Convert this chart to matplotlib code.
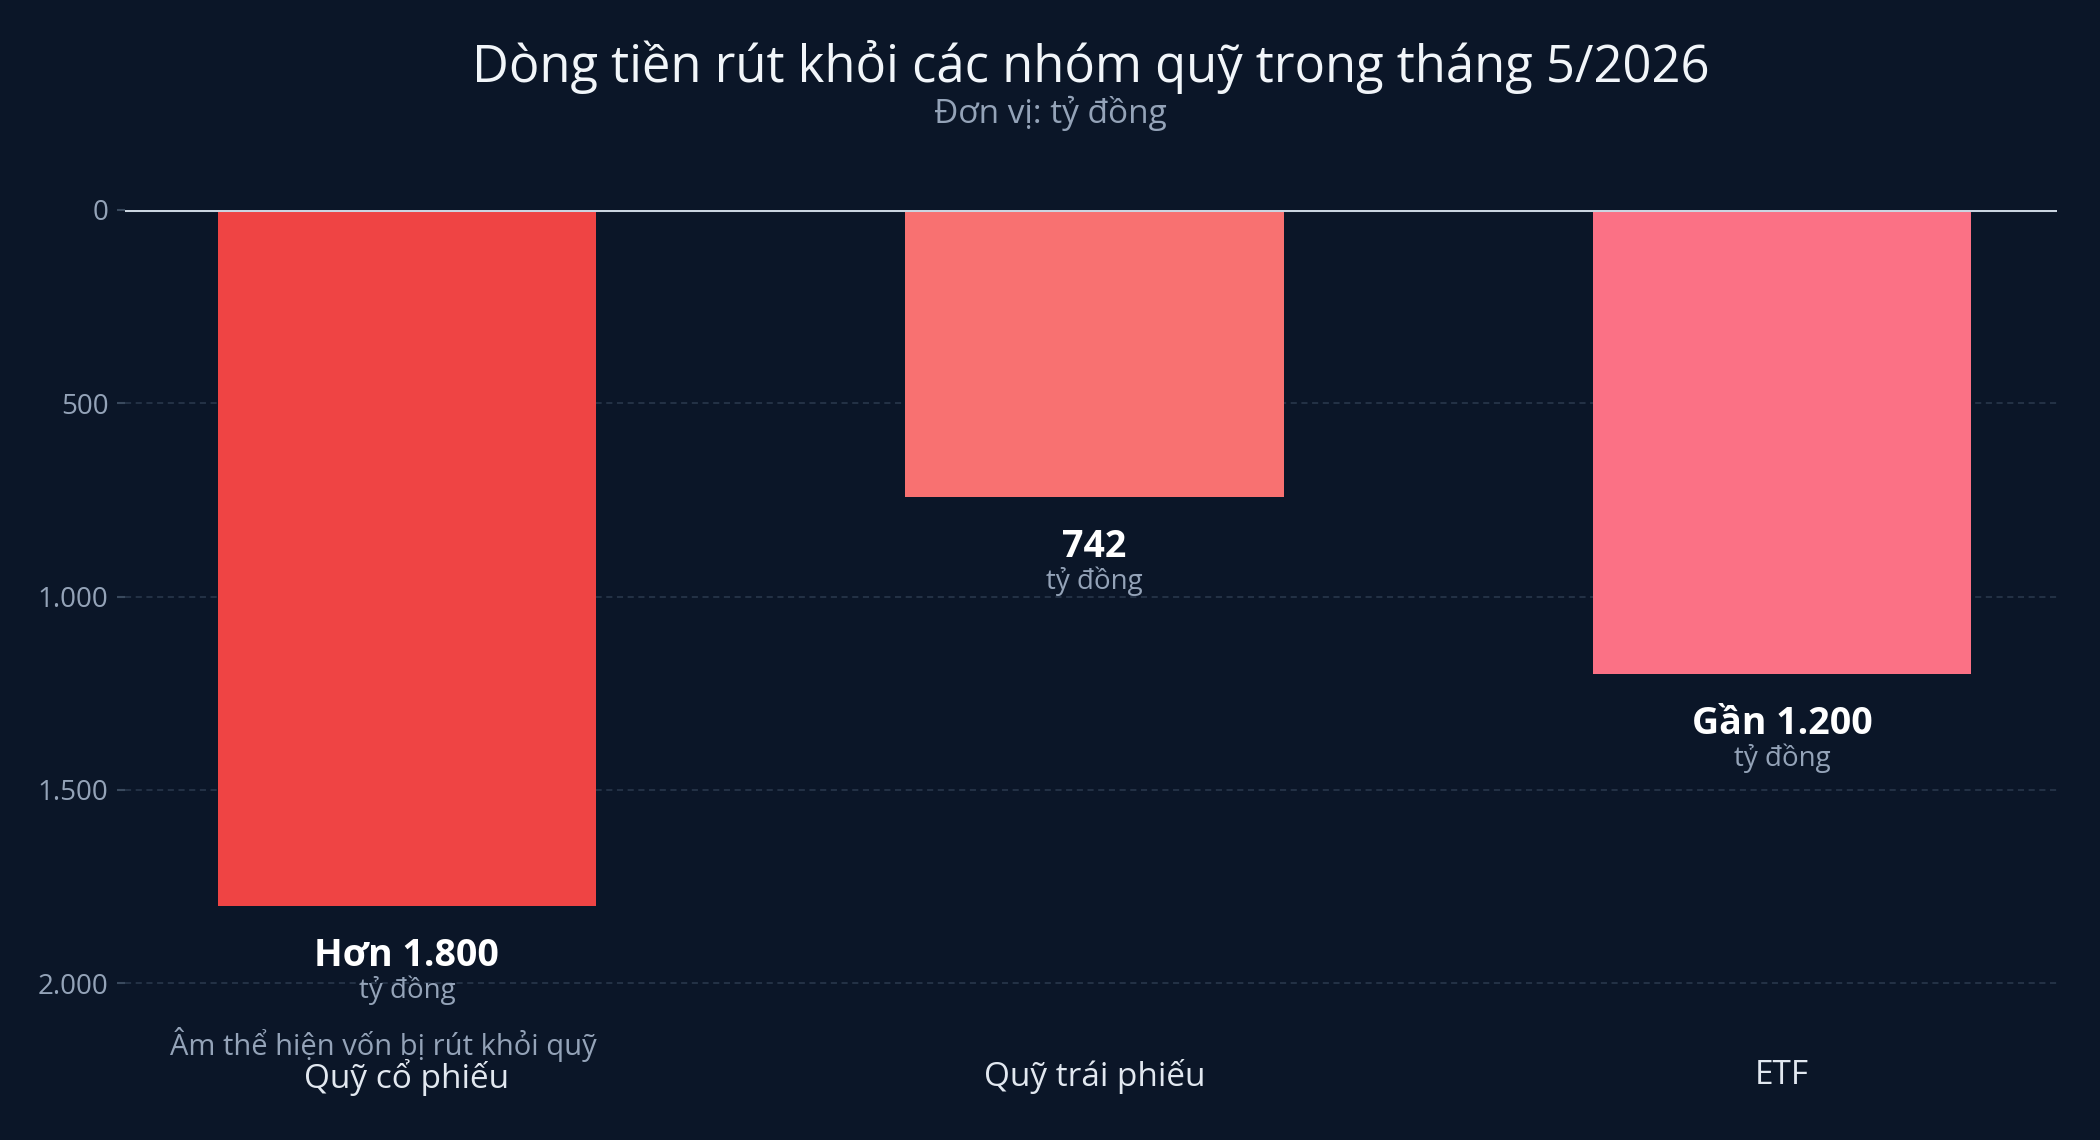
import matplotlib
matplotlib.use("Agg")
import matplotlib.pyplot as plt
from matplotlib.ticker import FuncFormatter

plt.rcParams['font.family'] = ['Open Sans', 'Noto Sans', 'DejaVu Sans']

categories = ["Quỹ cổ phiếu", "Quỹ trái phiếu", "ETF"]
flows = [-1800, -742, -1200]
label_prefix = ["Hơn", "", "Gần"]
bar_colors = ["#EF4444", "#F87171", "#FB7185"]
y_ticks = [0, -500, -1000, -1500, -2000]
title = "Dòng tiền rút khỏi các nhóm quỹ trong tháng 5/2026"
subtitle = "Đơn vị: tỷ đồng"
unit = "tỷ đồng"
note = "Âm thể hiện vốn bị rút khỏi quỹ"

BG = "#0B1628"
W, H = 2100, 1140
fig = plt.figure(figsize=(W / 100, H / 100), dpi=100, facecolor=BG)
ax = fig.add_axes([125 / W, 1 - 1022 / H, (2057 - 125) / W, (1022 - 210) / H])
ax.set_facecolor(BG)

x = list(range(len(categories)))
ax.bar(x, flows, width=0.55, color=bar_colors, zorder=2)
ax.set_xlim(-0.41, 2.40)
ax.set_ylim(-2100, 0)

ax.axhline(0, color="#CBD5E1", lw=2.2, zorder=3)
ax.set_yticks(y_ticks)
ax.yaxis.set_major_formatter(FuncFormatter(lambda v, p: f"{abs(int(round(v))):,}".replace(",", ".")))
ax.grid(axis="y", color="#2B3A4E", lw=1.1, ls=(0, (4, 3)), zorder=1)
ax.set_axisbelow(True)
for s in ax.spines.values():
    s.set_visible(False)
ax.tick_params(axis="y", colors="#3A4A5E", length=6, width=1.5, labelcolor="#94A3B8", labelsize=20, pad=6)
ax.set_xticks(x)
ax.set_xticklabels(categories, color="#E2E8F0", fontsize=24)
ax.tick_params(axis="x", length=0, pad=27)

def fmt(v):
    return f"{abs(v):,}".replace(",", ".")

for xi, v, pre in zip(x, flows, label_prefix):
    txt = (pre + " " + fmt(v)).strip()
    ax.annotate(txt, (xi, v), xytext=(0, -36), textcoords="offset points",
                ha="center", va="center", fontsize=27, fontweight="bold", color="#FFFFFF")
    ax.annotate(unit, (xi, v), xytext=(0, -61), textcoords="offset points",
                ha="center", va="center", fontsize=20, color="#94A3B8")

fig.text(383 / W, 1 - 1045 / H, note, ha="center", va="center", fontsize=21, color="#94A3B8")
fig.text(1091 / W, 1 - 82 / H, title, ha="center", va="baseline", fontsize=36.5, color="#F1F5F9")
fig.text(1050 / W, 1 - 123 / H, subtitle, ha="center", va="baseline", fontsize=24, color="#94A3B8")

fig.savefig("out.png", dpi=100, facecolor=BG)
